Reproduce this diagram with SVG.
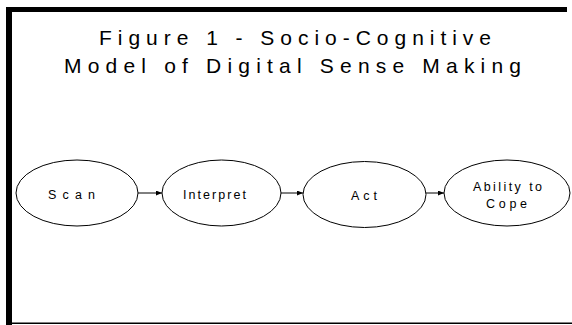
<svg xmlns="http://www.w3.org/2000/svg" width="572" height="325" viewBox="0 0 572 325">
  <style>
    .title { font-family: "Liberation Sans", Arial, sans-serif; font-size: 21px; fill: #000; }
    .label { font-family: "Liberation Sans", Arial, sans-serif; font-size: 12.5px; fill: #000; }
    .node { fill: #fff; stroke: #000; stroke-width: 1; }
    .edge { stroke: #000; stroke-width: 1; fill: none; marker-end: url(#arrow); }
  </style>
  <defs>
    <marker id="arrow" viewBox="0 0 6 5" refX="6" refY="2.5" markerWidth="6" markerHeight="5" markerUnits="userSpaceOnUse" orient="auto">
      <path d="M0,0 L6,2.5 L0,5 Z" fill="#000"/>
    </marker>
  </defs>

  <rect width="572" height="325" fill="#fff"/>

  <!-- frame -->
  <g id="frame">
    <rect x="6" y="7" width="561" height="5" fill="#000"/>
    <rect x="6" y="7" width="6" height="318" fill="#000"/>
    <rect x="12" y="322.5" width="560" height="1.5" fill="#000"/>
  </g>

  <!-- heading -->
  <g id="title">
    <text class="title" x="99" y="45" textLength="392" lengthAdjust="spacing">Figure 1 - Socio-Cognitive</text>
    <text class="title" x="64" y="73" textLength="457" lengthAdjust="spacing">Model of Digital Sense Making</text>
  </g>

  <!-- connectors -->
  <g id="connectors">
    <line class="edge" x1="138" y1="193" x2="162" y2="193"/>
    <line class="edge" x1="281" y1="193" x2="303" y2="193"/>
    <line class="edge" x1="426" y1="193" x2="444" y2="193"/>
  </g>

  <g id="scan">
    <ellipse class="node" cx="77" cy="193" rx="61" ry="33"/>
    <text class="label" x="48" y="198.5" textLength="47" lengthAdjust="spacing">Scan</text>
  </g>

  <g id="interpret">
    <ellipse class="node" cx="221.5" cy="193" rx="59.5" ry="33"/>
    <text class="label" x="183" y="198.5" textLength="63" lengthAdjust="spacing">Interpret</text>
  </g>

  <g id="act">
    <ellipse class="node" cx="364.5" cy="194.5" rx="61.5" ry="33"/>
    <text class="label" x="351" y="200" textLength="26" lengthAdjust="spacing">Act</text>
  </g>

  <g id="ability">
    <ellipse class="node" cx="507" cy="193" rx="63" ry="33"/>
    <text class="label" x="473" y="191" textLength="69" lengthAdjust="spacing">Ability to</text>
    <text class="label" x="486" y="207.5" textLength="41" lengthAdjust="spacing">Cope</text>
  </g>
</svg>
